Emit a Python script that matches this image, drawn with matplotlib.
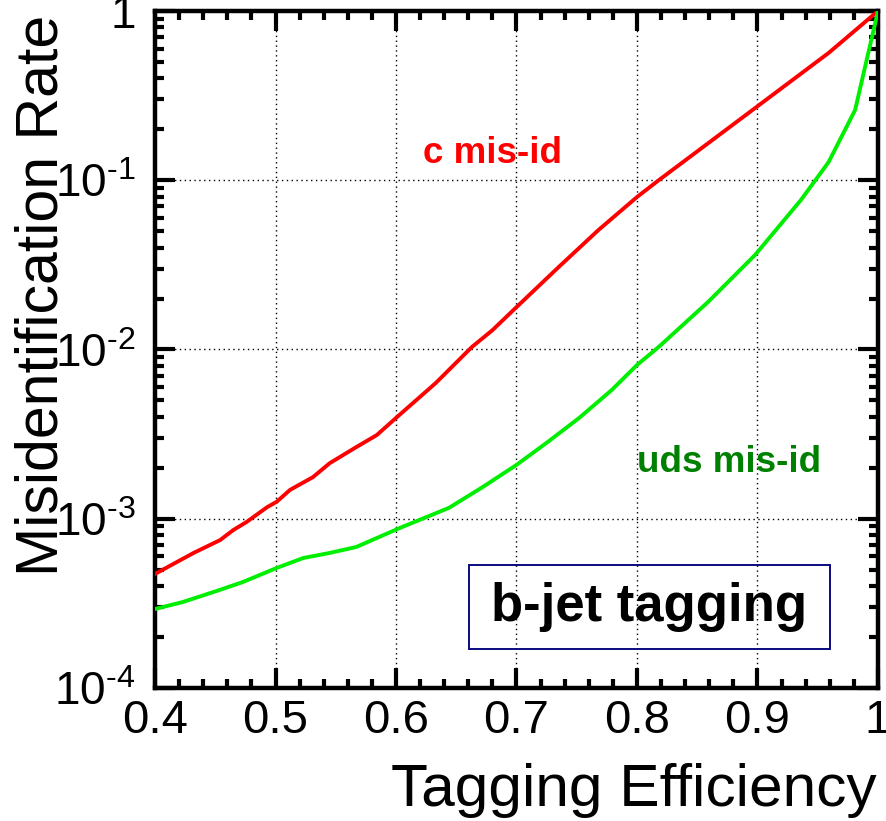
import matplotlib
matplotlib.use("Agg")
import matplotlib.pyplot as plt
from matplotlib.ticker import FixedLocator, MultipleLocator, LogLocator, NullFormatter
from matplotlib.patches import Rectangle

plt.rcParams['font.family'] = ['Liberation Sans', 'DejaVu Sans']
plt.rcParams['mathtext.fontset'] = 'custom'
plt.rcParams['mathtext.rm'] = 'Liberation Sans'
plt.rcParams['mathtext.it'] = 'Liberation Sans'
plt.rcParams['mathtext.default'] = 'regular'

# c-quark mis-identification vs b-tagging efficiency
c_eff = [0.400, 0.432, 0.454, 0.465, 0.476, 0.493, 0.501, 0.512, 0.531, 0.545,
         0.567, 0.584, 0.600, 0.633, 0.663, 0.680, 0.700, 0.735, 0.768, 0.800,
         0.818, 0.898, 0.959, 1.000]
c_rate = [4.72e-4, 6.28e-4, 7.48e-4, 8.58e-4, 9.57e-4, 1.17e-3, 1.26e-3, 1.48e-3,
          1.76e-3, 2.13e-3, 2.65e-3, 3.12e-3, 3.94e-3, 6.34e-3, 1.035e-2, 1.30e-2,
          1.78e-2, 3.07e-2, 5.08e-2, 7.96e-2, 0.100, 0.267, 0.565, 1.0]

# light-quark (uds) mis-identification vs b-tagging efficiency
uds_eff = [0.400, 0.423, 0.451, 0.473, 0.501, 0.523, 0.545, 0.567, 0.584, 0.603,
           0.644, 0.672, 0.700, 0.725, 0.752, 0.779, 0.800, 0.818, 0.859, 0.898,
           0.936, 0.959, 0.981, 1.000]
uds_rate = [2.93e-4, 3.22e-4, 3.74e-4, 4.23e-4, 5.12e-4, 5.86e-4, 6.28e-4, 6.81e-4,
            7.69e-4, 8.81e-4, 1.16e-3, 1.54e-3, 2.08e-3, 2.81e-3, 3.94e-3, 5.76e-3,
            8.10e-3, 1.035e-2, 1.91e-2, 3.62e-2, 7.64e-2, 0.128, 0.26, 1.0]

x_ticks = [0.4, 0.5, 0.6, 0.7, 0.8, 0.9, 1.0]
x_tick_labels = ["0.4", "0.5", "0.6", "0.7", "0.8", "0.9", "1"]
y_ticks = [1e-4, 1e-3, 1e-2, 1e-1, 1]
y_tick_labels = [r"$10^{\text{-4}}$", r"$10^{\text{-3}}$", r"$10^{\text{-2}}$",
                 r"$10^{\text{-1}}$", "1"]

fig = plt.figure(figsize=(8.87, 8.21), dpi=100)
ax = fig.add_axes([155 / 887, (821 - 688) / 821, 723 / 887, 677 / 821])

ax.plot(c_eff, c_rate, color='#ff0000', lw=2.8, solid_joinstyle='round', zorder=3)
ax.plot(uds_eff, uds_rate, color='#00ee00', lw=2.8, solid_joinstyle='round', zorder=3)

ax.set_yscale('log')
ax.set_xlim(0.4, 1.0)
ax.set_ylim(1e-4, 1)

ax.xaxis.set_major_locator(FixedLocator(x_ticks))
ax.set_xticklabels(x_tick_labels)
ax.xaxis.set_minor_locator(MultipleLocator(0.02))
ax.yaxis.set_major_locator(FixedLocator(y_ticks))
ax.set_yticklabels(y_tick_labels)
ax.yaxis.set_minor_locator(LogLocator(base=10, subs=range(2, 10), numticks=20))
ax.yaxis.set_minor_formatter(NullFormatter())

ax.tick_params(which='both', direction='in', top=True, right=True, width=3.0)
ax.tick_params(which='major', length=14.5)
ax.tick_params(which='minor', length=6.8)
ax.tick_params(axis='x', which='major', pad=8, labelsize=34)
ax.tick_params(axis='y', which='major', pad=14, labelsize=33)
for s in ax.spines.values():
    s.set_linewidth(3.2)

ax.grid(True, which='major', color='black', linestyle=(0, (1, 2.5)), linewidth=1.0)

fig.text(877 / 887, 1 - 806 / 821, "Tagging Efficiency", fontsize=43.5,
         ha='right', va='baseline')
fig.text(14 / 887, 1 - 295 / 821, "Misidentification Rate", fontsize=42.5,
         rotation=90, ha='left', va='center')

ax.text(0.622, 0.126, "c mis-id", color='#ff0000', fontsize=26.5, fontweight='bold',
        ha='left', va='baseline', zorder=4)
ax.text(0.800, 1.89e-3, "uds mis-id", color='#008000', fontsize=26.5, fontweight='bold',
        ha='left', va='baseline', zorder=4)

ax.add_patch(Rectangle((0.4345, 0.0576), 0.4995, 0.1241, transform=ax.transAxes,
                       fill=False, edgecolor='#0a0a80', linewidth=1.4, zorder=4))
ax.text(0.684, 0.1196, "b-jet tagging", transform=ax.transAxes, fontsize=38,
        fontweight='bold', ha='center', va='center', zorder=4)

fig.savefig("out.png", dpi=100)
